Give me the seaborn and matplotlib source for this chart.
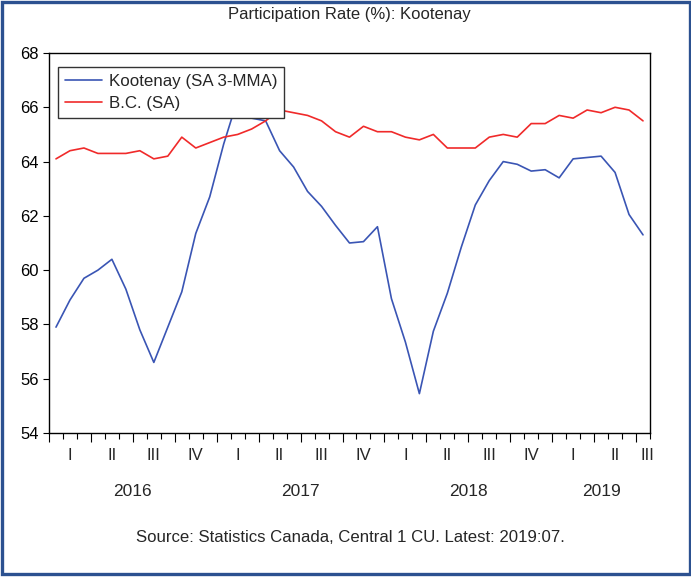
import numpy as np
import pandas as pd
import matplotlib
matplotlib.use("Agg")
import matplotlib.pyplot as plt
import matplotlib.transforms as mtransforms
from matplotlib.patches import Rectangle
import seaborn as sns

# Monthly participation rate (%), 2016:01 - 2019:07
start_month = "2016-01"
kootenay = [57.9, 58.9, 59.7, 60.0, 60.4, 59.3, 57.8, 56.6, 57.9, 59.2,
            61.35, 62.7, 64.65, 66.3, 65.6, 65.5, 64.4, 63.8, 62.9, 62.35,
            61.65, 61.0, 61.05, 61.6, 58.95, 57.35, 55.45, 57.75, 59.15, 60.85,
            62.4, 63.3, 64.0, 63.9, 63.65, 63.7, 63.4, 64.1, 64.15, 64.2,
            63.6, 62.05, 61.3]
bc = [64.1, 64.4, 64.5, 64.3, 64.3, 64.3, 64.4, 64.1, 64.2, 64.9,
      64.5, 64.7, 64.9, 65.0, 65.2, 65.5, 65.9, 65.8, 65.7, 65.5,
      65.1, 64.9, 65.3, 65.1, 65.1, 64.9, 64.8, 65.0, 64.5, 64.5,
      64.5, 64.9, 65.0, 64.9, 65.4, 65.4, 65.7, 65.6, 65.9, 65.8,
      66.0, 65.9, 65.5]
series_names = ["Kootenay (SA 3-MMA)", "B.C. (SA)"]
quarter_labels = ["I", "II", "III", "IV"]
y_ticks = [54, 56, 58, 60, 62, 64, 66, 68]

months = pd.period_range(start_month, periods=len(kootenay), freq="M")
n = len(months)
idx = np.arange(n)

df = pd.concat([
    pd.DataFrame({"t": idx, "value": kootenay, "series": series_names[0]}),
    pd.DataFrame({"t": idx, "value": bc, "series": series_names[1]}),
])

sns.set_style("ticks")
plt.rcParams["font.family"] = ["Liberation Sans", "DejaVu Sans"]

fig = plt.figure(figsize=(6.91, 5.79), dpi=100)
ax = fig.add_axes([49 / 691, 1 - 433 / 579, 601 / 691, 380 / 579])

sns.lineplot(data=df, x="t", y="value", hue="series", ax=ax,
             palette={series_names[0]: "#3a55b4", series_names[1]: "#f02a2a"},
             linewidth=1.2, legend=True)

ax.set_xlim(-0.5, n - 0.5)
ax.set_ylim(y_ticks[0], y_ticks[-1])
ax.set_yticks(y_ticks)
ax.set_xlabel("")
ax.set_ylabel("")

for side in ["left", "right", "top", "bottom"]:
    ax.spines[side].set_visible(True)
    ax.spines[side].set_color("black")
    ax.spines[side].set_linewidth(1.0)

ax.tick_params(axis="y", direction="out", length=4.5, width=0.8,
               labelsize=12, pad=3, colors="black")

# month boundaries as minor ticks, quarter boundaries as major ticks
ax.set_xticks(np.arange(-0.5, n, 3))
ax.set_xticks(np.arange(-0.5, n, 1), minor=True)
ax.tick_params(axis="x", which="major", direction="out", length=6.5,
               width=0.8, labelbottom=False, colors="black")
ax.tick_params(axis="x", which="minor", direction="out", length=4,
               width=0.8, labelbottom=False, colors="black")

trans = mtransforms.blended_transform_factory(ax.transData, fig.transFigure)

# quarter labels centred on each quarter's available months
quarters = months.quarter
years = months.year
for (yr, q) in dict.fromkeys(zip(years, quarters)):
    sel = idx[(years == yr) & (quarters == q)]
    xc = (sel[0] + sel[-1]) / 2 if len(sel) > 1 else sel[0] + 0.3
    ax.text(xc, 1 - 455 / 579, quarter_labels[q - 1], transform=trans,
            ha="center", va="center", fontsize=12)

# year labels centred on each year's span
for yr in dict.fromkeys(years):
    sel = idx[years == yr]
    xc = (sel[0] + sel[-1]) / 2
    ax.text(xc, 1 - 491 / 579, str(yr), transform=trans,
            ha="center", va="center", fontsize=12.5)

leg = ax.legend(loc="upper left", bbox_to_anchor=(0.015, 0.963),
                frameon=True, fancybox=False, fontsize=12.2,
                handlelength=2.2, handletextpad=0.4, borderpad=0.4,
                labelspacing=0.42, borderaxespad=0)
leg.get_frame().set_edgecolor("#333333")
leg.get_frame().set_linewidth(1.0)
leg.get_frame().set_alpha(1)
for line in leg.get_lines():
    line.set_linewidth(1.2)

fig.text(349 / 691, 1 - 15 / 579, "Participation Rate (%): Kootenay",
         ha="center", va="center", fontsize=12)
fig.text(350 / 691, 1 - 537 / 579,
         "Source: Statistics Canada, Central 1 CU. Latest: 2019:07.",
         ha="center", va="center", fontsize=12.1)

fig.patches.append(Rectangle((1.5 / 691, 5.5 / 579), 688 / 691, 572 / 579,
                             transform=fig.transFigure, fill=False,
                             edgecolor="#2c5190", linewidth=2.4))

fig.savefig("out.png", dpi=100)
